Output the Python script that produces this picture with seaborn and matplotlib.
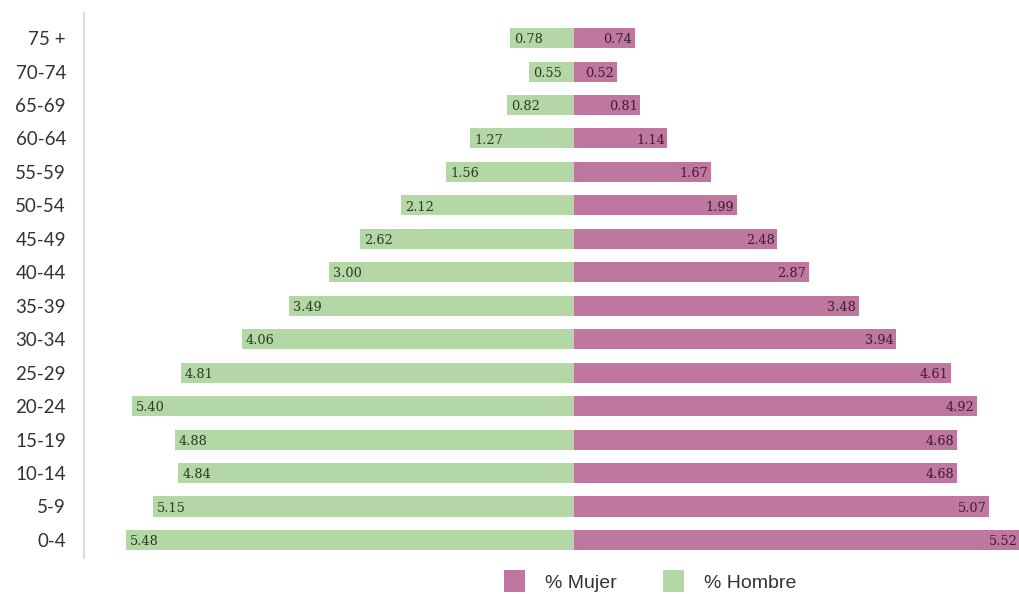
import numpy as np
import pandas as pd
import matplotlib
matplotlib.use("Agg")
import matplotlib.pyplot as plt
import seaborn as sns
from matplotlib.patches import Patch

# Age groups, oldest at the top
ages = ["75 +", "70-74", "65-69", "60-64", "55-59", "50-54", "45-49", "40-44",
        "35-39", "30-34", "25-29", "20-24", "15-19", "10-14", "5-9", "0-4"]
hombre = [0.78, 0.55, 0.82, 1.27, 1.56, 2.12, 2.62, 3.00,
          3.49, 4.06, 4.81, 5.40, 4.88, 4.84, 5.15, 5.48]
mujer = [0.74, 0.52, 0.81, 1.14, 1.67, 1.99, 2.48, 2.87,
         3.48, 3.94, 4.61, 4.92, 4.68, 4.68, 5.07, 5.52]

GREEN = "#b3d7a5"
PINK = "#c0779f"

sns.set_style("white")

df = pd.DataFrame({"edad": ages, "hombre": hombre, "mujer": mujer})
df["hombre_neg"] = -df["hombre"]

fig = plt.figure(figsize=(10.2, 5.94), dpi=100)
ax = fig.add_axes([84 / 1020, 1 - 558 / 594, (1020 - 84) / 1020, (558 - 13) / 594])

sns.barplot(data=df, x="hombre_neg", y="edad", orient="h", color=GREEN,
            width=0.6, ax=ax, saturation=1, linewidth=0, edgecolor="none")
sns.barplot(data=df, x="mujer", y="edad", orient="h", color=PINK,
            width=0.6, ax=ax, saturation=1, linewidth=0, edgecolor="none")

ax.set_xlim(-5.99, 5.45)
ax.set_ylim(len(ages) - 1 + 0.54, -0.75)

label_font = dict(family="DejaVu Serif", size=9.3)
for i, (h, m) in enumerate(zip(hombre, mujer)):
    ax.text(-h + 0.05, i + 0.05, f"{h:.2f}", ha="left", va="center",
            color="#2a3a26", **label_font, clip_on=False)
    ax.text(min(m, 5.45) - 0.03, i + 0.05, f"{m:.2f}", ha="right", va="center",
            color="#3a1f2e", **label_font, clip_on=False)

ax.set_xlabel("")
ax.set_ylabel("")
ax.set_xticks([])
ax.tick_params(axis="y", length=0, pad=13, labelsize=13.5, labelcolor="#333333")
for lab in ax.get_yticklabels():
    lab.set_family("Lato")

for side in ["top", "right", "bottom"]:
    ax.spines[side].set_visible(False)
ax.spines["left"].set_color("#d4d4d4")
ax.spines["left"].set_linewidth(1.2)

handles = [Patch(facecolor=PINK, edgecolor="none", label="% Mujer"),
           Patch(facecolor=GREEN, edgecolor="none", label="% Hombre")]
fig.legend(handles=handles, loc="center", bbox_to_anchor=(650 / 1020, 1 - 581 / 594),
           ncol=2, frameon=False, handlelength=1.1, handleheight=1.3,
           handletextpad=1.0, columnspacing=2.4,
           prop=dict(family="Liberation Sans", size=14), labelcolor="#333333")

fig.savefig("out.png", dpi=100)
